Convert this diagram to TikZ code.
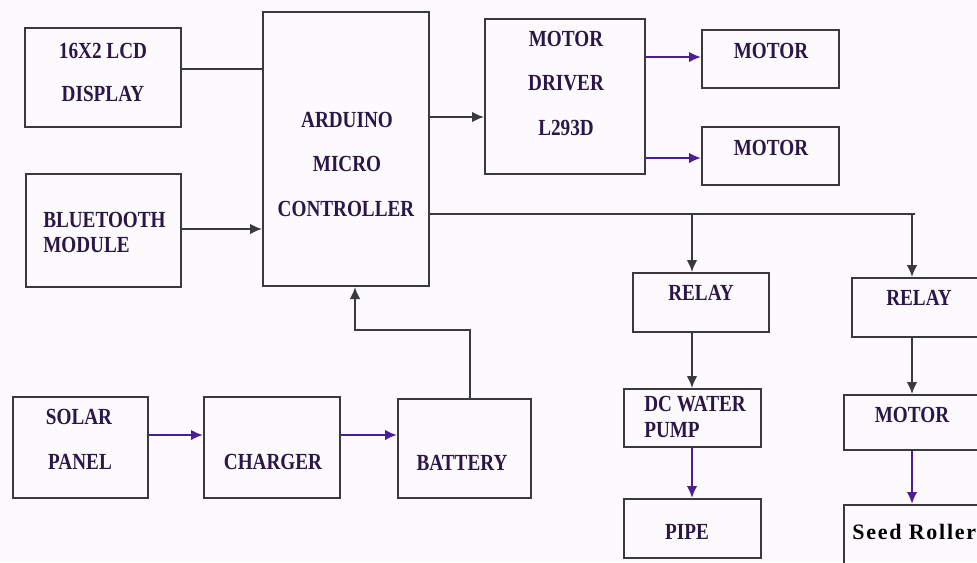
\documentclass[tikz,border=0pt]{standalone}
\usepackage{fontspec}
\setmainfont{Liberation Serif}
\usetikzlibrary{arrows.meta}

\definecolor{inkblue}{RGB}{42,22,72}
\definecolor{wire}{RGB}{58,58,62}
\definecolor{violetwire}{RGB}{78,28,150}
\definecolor{paper}{RGB}{252,250,252}

\tikzset{
    block/.style={draw=wire, line width=1.5pt, rectangle, inner sep=0pt},
    caption/.style={text=inkblue, inner sep=0pt, yscale=1.2, font=\fontsize{14.4}{17}\selectfont\bfseries},
    link/.style={draw=wire, line width=1.4pt},
    feed/.style={link, -{Latex[length=9pt,width=8pt]}},
    power/.style={draw=violetwire, line width=1.9pt, -{Latex[length=9pt,width=8pt]}}
}

\begin{document}
\begin{tikzpicture}[x=0.75pt, y=-0.75pt]
    % Page
    \useasboundingbox (0,0) rectangle (977,562);
    \fill[paper] (0,0) rectangle (977,562);
    \clip (0,0) rectangle (977,562);

    % Blocks
    \node[block, minimum width=117pt,    minimum height=74.25pt]  (lcd)    at (103,77.5)   {};
    \node[block, minimum width=116.25pt, minimum height=84.75pt]  (bt)     at (103.5,230.5) {};
    \node[block, minimum width=124.5pt,  minimum height=205.5pt]  (ard)    at (346,149)    {};
    \node[block, minimum width=120pt,    minimum height=116.25pt] (drv)    at (565,96.5)   {};
    \node[block, minimum width=102.75pt, minimum height=43.5pt]   (motA)   at (770.5,59)   {};
    \node[block, minimum width=102.75pt, minimum height=43.5pt]   (motB)   at (770.5,156)  {};
    \node[block, minimum width=102pt,    minimum height=44.25pt]  (relA)   at (701,302.5)  {};
    \node[block, minimum width=102.75pt, minimum height=43.5pt]   (pump)   at (692,418)    {};
    \node[block, minimum width=102.75pt, minimum height=44.25pt]  (pipe)   at (692,528.5)  {};
    \node[block, minimum width=111pt,    minimum height=44.25pt]  (relB)   at (926,307.5)  {};
    \node[block, minimum width=117pt,    minimum height=41.25pt]  (motC)   at (922,422.5)  {};
    \node[block, minimum width=117pt,    minimum height=52.5pt]   (seed)   at (922,540)    {};
    \node[block, minimum width=101.25pt, minimum height=75.75pt]  (solar)  at (80.5,447.5) {};
    \node[block, minimum width=102pt,    minimum height=75.75pt]  (chg)    at (272,447.5)  {};
    \node[block, minimum width=99.75pt,  minimum height=74.25pt]  (bat)    at (464.5,448.5) {};

    % Labels
    \node[caption] (lcdA)   at (103,51)  {16X2 LCD};
    \node[caption] (lcdB)   at (103,94)  {DISPLAY};
    \node[caption, anchor=west] (btA) at (43,220) {BLUETOOTH};
    \node[caption, anchor=west] (btB) at (43,245) {MODULE};
    \node[caption] (ardA)   at (347,120) {ARDUINO};
    \node[caption] (ardB)   at (347,164) {MICRO};
    \node[caption] (ardC)   at (346,209) {CONTROLLER};
    \node[caption] (drvA)   at (566,39)  {MOTOR};
    \node[caption] (drvB)   at (566,83)  {DRIVER};
    \node[caption] (drvC)   at (566,128) {L293D};
    \node[caption] (motAtx) at (771,51)  {MOTOR};
    \node[caption] (motBtx) at (771,148) {MOTOR};
    \node[caption] (relAtx) at (701,293) {RELAY};
    \node[caption, anchor=west] (pumpA) at (644,404) {DC WATER};
    \node[caption, anchor=west] (pumpB) at (644,430) {PUMP};
    \node[caption] (pipetx) at (687,532) {PIPE};
    \node[caption] (relBtx) at (919,298) {RELAY};
    \node[caption] (motCtx) at (912,415) {MOTOR};
    \node[caption, anchor=west, text=black, yscale=1/1.2,
          font=\fontsize{16.5}{19}\selectfont\bfseries\addfontfeatures{LetterSpace=8}] (seedtx) at (852,532) {Seed Roller};
    \node[caption] (solarA) at (79,417)  {SOLAR};
    \node[caption] (solarB) at (80,462)  {PANEL};
    \node[caption] (chgtx)  at (273,462) {CHARGER};
    \node[caption] (battx)  at (462,463) {BATTERY};

    % Helper points
    \coordinate (lcdrow) at (0,69);
    \coordinate (btrow)  at (0,229);
    \coordinate (drvrow) at (0,117);
    \coordinate (motArow) at (0,57);
    \coordinate (motBrow) at (0,158);
    \coordinate (busend) at (915,214);
    \coordinate (tapA)   at (692,214);
    \coordinate (tapB)   at (912,214);
    \coordinate (chgrow) at (0,435);
    \coordinate (rise)   at (470,330);
    \coordinate (drop)   at (355,330);

    % Controller links
    \draw[link] (lcd.east |- lcdrow) -- (ard.west |- lcdrow);
    \draw[feed] (bt.east |- btrow) -- (ard.west |- btrow);
    \draw[feed] (ard.east |- drvrow) -- (drv.west |- drvrow);
    \draw[power] (drv.east |- motArow) -- (motA.west |- motArow);
    \draw[power] (drv.east |- motBrow) -- (motB.west |- motBrow);

    % Relay bus
    \draw[link] (ard.east |- busend) -- (busend);
    \draw[feed] (tapA) -- (tapA |- relA.north);
    \draw[feed] (tapB) -- (tapB |- relB.north);
    \draw[feed] (relA.south -| pump.north) -- (pump.north);
    \draw[power] (pump.south) -- (pipe.north);
    \draw[feed] (relB.south -| tapB) -- (motC.north -| tapB);
    \draw[power] (motC.south -| tapB) -- (seed.north -| tapB);

    % Power chain
    \draw[power] (solar.east |- chgrow) -- (chg.west |- chgrow);
    \draw[power] (chg.east |- chgrow) -- (bat.west |- chgrow);
    \draw[feed] (rise |- bat.north) -- (rise) -- (drop) -- (drop |- ard.south);
\end{tikzpicture}
\end{document}
